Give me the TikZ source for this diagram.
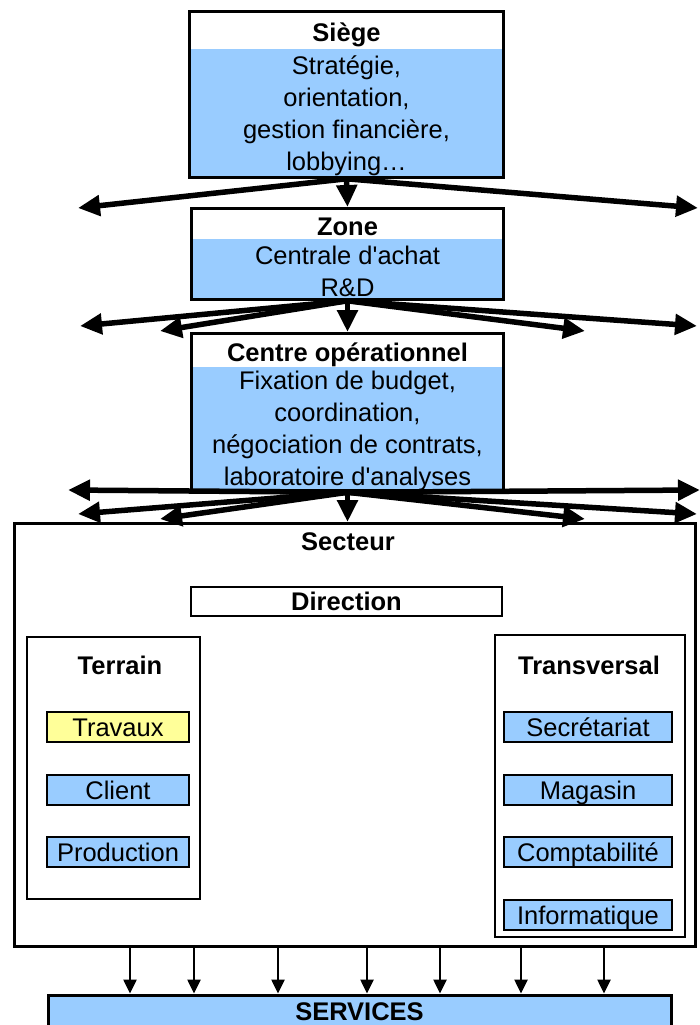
\documentclass[tikz,border=0pt]{standalone}
\usepackage{fontspec}
\setmainfont{Liberation Sans}[Ligatures=TeXOff]
\usetikzlibrary{arrows.meta,fit}

\definecolor{bleuclair}{HTML}{99CCFF}
\definecolor{jaunepale}{HTML}{FFFF99}

\tikzstyle{texte} = [font=\fontsize{25.5}{32}\selectfont, inner sep=0pt, align=center]
\tikzstyle{titre} = [texte, font=\fontsize{25.5}{32}\selectfont\bfseries, fill=white, text height=23pt, text depth=5pt]
\tikzstyle{entete} = [titre, text height=26pt, text depth=2pt]
\tikzstyle{corps} = [texte, fill=bleuclair]
\tikzstyle{cadre} = [draw, line width=3pt, inner sep=0pt]
\tikzstyle{groupe} = [draw, line width=1.5pt]
\tikzstyle{service} = [texte, draw, line width=2pt, fill=bleuclair, minimum height=30pt, text height=23pt, text depth=5pt]
\tikzstyle{grosse} = [line width=5.5pt, -{Triangle[length=22pt,width=20pt]}]
\tikzstyle{fine} = [line width=2.5pt, -{Triangle[length=14pt,width=13pt]}]

\begin{document}
\begin{tikzpicture}[x=1pt,y=-1pt]
		\useasboundingbox (0,0) rectangle (700,1025);

		% niveaux du haut
		\node[entete, minimum width=314pt, minimum height=36.5pt, anchor=north] (siegetitre) at (346.5,11.5) {Siège};
		\node[corps, minimum width=314pt, minimum height=128.5pt, anchor=north,
			label={[texte, yshift=-3pt]center:{Stratégie,\\orientation,\\gestion financière,\\lobbying…}}] (siegecorps) at (siegetitre.south) {};
		\node[cadre, fit=(siegetitre)(siegecorps)] (siege) {};

		\node[entete, minimum width=312pt, minimum height=29.5pt, anchor=north] (zonetitre) at (347.5,208.5) {Zone};
		\node[corps, minimum width=312pt, minimum height=60.5pt, anchor=north,
			label={[texte, yshift=-2.5pt]center:{Centrale d'achat\\R\&D}}] (zonecorps) at (zonetitre.south) {};
		\node[cadre, fit=(zonetitre)(zonecorps)] (zone) {};

		\node[entete, minimum width=312pt, minimum height=32.5pt, anchor=north] (centretitre) at (347.5,333.5) {Centre opérationnel};
		\node[corps, minimum width=312pt, minimum height=124pt, anchor=north,
			label={[texte, yshift=-2.5pt]center:{Fixation de budget,\\coordination,\\négociation de contrats,\\laboratoire d'analyses}}] (centrecorps) at (centretitre.south) {};
		\node[cadre, fit=(centretitre)(centrecorps)] (centre) {};

		% secteur
		\node[cadre, minimum width=681pt, minimum height=423pt] (secteur) at (355,735) {};
		\node[titre] (secteurtitre) at (348,541) {Secteur};
		\node[titre, draw, line width=2pt, minimum width=311pt, minimum height=29pt] (direction) at (346.5,601.5) {Direction};

		\node[groupe, minimum width=173pt, minimum height=262pt] (terrain) at (113.5,768) {};
		\node[titre] (terraintitre) at (120,665) {Terrain};
		\node[service, fill=jaunepale, minimum width=142pt] (travaux) at (118,727) {Travaux};
		\node[service, minimum width=142pt] (client) at (118,790) {Client};
		\node[service, minimum width=142pt] (production) at (118,852) {Production};

		\node[groupe, minimum width=190pt, minimum height=302pt] (transversal) at (590,786) {};
		\node[titre] (transversaltitre) at (589,665) {Transversal};
		\node[service, minimum width=168pt] (secretariat) at (588,727) {Secrétariat};
		\node[service, minimum width=168pt] (magasin) at (588,790) {Magasin};
		\node[service, minimum width=168pt] (comptabilite) at (588,852) {Comptabilité};
		\node[service, minimum width=168pt] (informatique) at (588,915) {Informatique};

		\node[cadre, fill=bleuclair, minimum width=623pt, minimum height=33pt] (services) at (359.5,1011.5) {};
		\node[titre, fill=none] (servicestitre) at (359.5,1011) {SERVICES};

		% fleches
		\coordinate (g1) at (78,208);
		\coordinate (d1) at (698,208);
		\draw[grosse] (siege.south) -- (g1);
		\draw[grosse] (siege.south) -- (d1);
		\draw[grosse] (siege.south) -- (zone.north);

		\coordinate (g2a) at (80,326);
		\coordinate (g2b) at (160,331);
		\coordinate (d2b) at (585,331);
		\coordinate (d2a) at (697,326);
		\foreach \c in {g2a,g2b,d2b,d2a}
			\draw[grosse] (zone.south) -- (\c);
		\draw[grosse] (zone.south) -- (centre.north);

		\coordinate (g3h) at (68,490);
		\coordinate (d3h) at (700,490);
		\coordinate (g3a) at (78,514);
		\coordinate (g3b) at (160,519);
		\coordinate (d3b) at (585,519);
		\coordinate (d3a) at (697,514);
		\foreach \c in {g3h,d3h,g3a,g3b,d3b,d3a}
			\draw[grosse] (centre.south) -- (\c);
		\draw[grosse] (centre.south) -- (centre.south |- secteur.north);

		\foreach \x in {130,194,278,367,440,521,604}
			\draw[fine] (secteur.south -| \x,0) -- (services.north -| \x,0);
\end{tikzpicture}
\end{document}
